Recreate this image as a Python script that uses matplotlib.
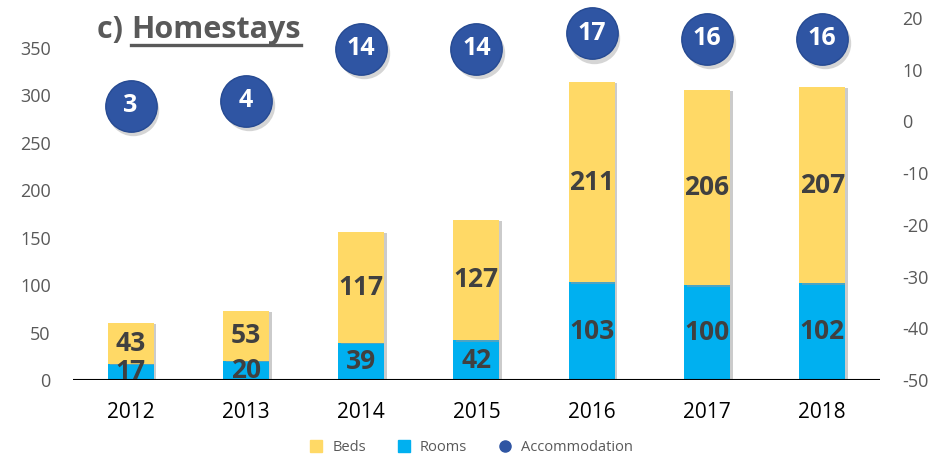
import matplotlib.pyplot as plt
import matplotlib.transforms as mtransforms
from matplotlib.lines import Line2D
import matplotlib.patheffects as pe
import numpy as np

plt.rcParams['font.family'] = ['Open Sans', 'DejaVu Sans']
plt.rcParams['axes.unicode_minus'] = False

years = ['2012', '2013', '2014', '2015', '2016', '2017', '2018']
rooms = [17, 20, 39, 42, 103, 100, 102]
beds = [43, 53, 117, 127, 211, 206, 207]
accommodation = [3, 4, 14, 14, 17, 16, 16]

c_beds = '#FFD966'
c_rooms = '#00B0F0'
c_acc = '#2F55A3'
c_lab = '#404040'
c_tick = '#595959'

fig = plt.figure(figsize=(9.35, 4.59), dpi=100)
ax = fig.add_axes([0.078, 0.172, 0.863, 0.789])
ax2 = ax.twinx()

x = np.arange(len(years))
shadow = [pe.SimplePatchShadow(offset=(2, -1), shadow_rgbFace='#999999', alpha=0.5), pe.Normal()]
ax.bar(x, rooms, width=0.4, color=c_rooms, zorder=2, path_effects=shadow)
ax.bar(x, beds, width=0.4, bottom=rooms, color=c_beds, zorder=2, path_effects=shadow)

for i in range(len(years)):
    ax.text(x[i], rooms[i] / 2, str(rooms[i]), ha='center', va='center',
            fontsize=19, fontweight='bold', color=c_lab, zorder=4)
    ax.text(x[i], rooms[i] + beds[i] / 2, str(beds[i]), ha='center', va='center',
            fontsize=19, fontweight='bold', color=c_lab, zorder=4)

ax.set_xlim(-0.5, len(years) - 0.5)
ax.set_ylim(0, 381.6)
ax.set_yticks(range(0, 351, 50))
ax.set_xticks(x)
ax.set_xticklabels(years)
ax.axhline(0, color='black', lw=1.5, zorder=3)
ax.tick_params(axis='y', length=0, labelsize=13, labelcolor=c_tick, pad=16)
ax.tick_params(axis='x', length=0, labelsize=15, labelcolor='black', pad=16)

ax2.set_ylim(-50, 20)
ax2.set_yticks(range(-50, 21, 10))
ax2.tick_params(axis='y', length=0, labelsize=13, labelcolor=c_tick, pad=16)

# circle shadow, then circles
sh = mtransforms.offset_copy(ax2.transData, fig=fig, x=2, y=-3, units='points')
ax2.plot(x, accommodation, 'o', ms=37, color='#888888', alpha=0.35, mew=0,
         transform=sh, zorder=4, clip_on=False)
ax2.plot(x, accommodation, 'o', ms=37, color=c_acc, mec='#264A92', mew=1,
         zorder=5, clip_on=False)
for i in range(len(years)):
    ax2.text(x[i], accommodation[i], str(accommodation[i]), ha='center', va='center',
             fontsize=18, fontweight='bold', color='white', zorder=6)

for a in (ax, ax2):
    for s in a.spines.values():
        s.set_visible(False)

# title with underlined word
ty = 0.917
t1 = fig.text(0.104, ty, 'c) ', fontsize=22, fontweight='bold', color=c_tick, va='baseline')
fig.canvas.draw()
bb = t1.get_window_extent()
t2 = fig.text(bb.x1 / fig.bbox.width, ty, 'Homestays', fontsize=22, fontweight='bold',
              color=c_tick, va='baseline')
fig.canvas.draw()
bb2 = t2.get_window_extent()
uy = ty - 0.015
fig.add_artist(Line2D([bb2.x0 / fig.bbox.width, bb2.x1 / fig.bbox.width], [uy, uy],
                      color=c_tick, lw=2.4))

handles = [Line2D([], [], marker='s', ls='', color=c_beds, ms=8),
           Line2D([], [], marker='s', ls='', color=c_rooms, ms=8),
           Line2D([], [], marker='o', ls='', color=c_acc, ms=8)]
fig.legend(handles, ['Beds', 'Rooms', 'Accommodation'], loc='lower center',
           bbox_to_anchor=(0.5, -0.02), ncol=3, frameon=False, fontsize=10.5,
           labelcolor=c_tick, handletextpad=0.1, columnspacing=1.6)

fig.savefig('out.png', dpi=100)
